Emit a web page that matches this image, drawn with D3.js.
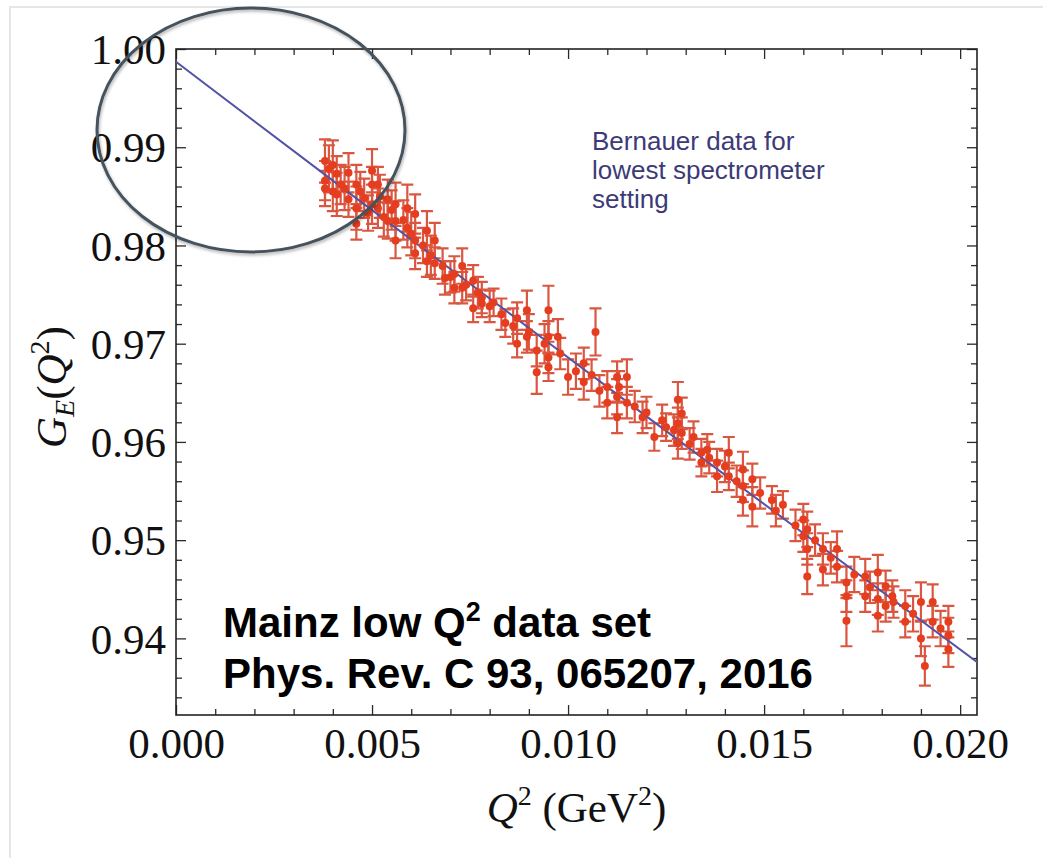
<!DOCTYPE html>
<html>
<head>
<meta charset="utf-8">
<script src="https://cdn.jsdelivr.net/npm/d3@7"></script>
<style>
  body { margin: 0; background: #fff; }
  .axis path.domain { display: none; }
  .axis line { stroke: #2a2a2a; stroke-width: 1.3; }
  .axis text { font-family: "Liberation Serif", "Times New Roman", serif; font-size: 43px; fill: #111; }
  .title { font-family: "Liberation Serif", "Times New Roman", serif; font-size: 43px; fill: #111; }
  .note { font-family: "Liberation Sans", Arial, sans-serif; font-size: 26px; fill: #3d3a78; }
  .ref { font-family: "Liberation Sans", Arial, sans-serif; font-size: 42px; font-weight: bold; fill: #000; }
</style>
</head>
<body>
<svg id="chart"></svg>
<script>
// Mainz low-Q2 data (Bernauer, lowest spectrometer setting)
const q2 = [
  0.0038, 0.0038, 0.0038, 0.0040, 0.0040, 0.0041, 0.0041, 0.0044, 0.0044, 0.0046,
  0.0046, 0.0046, 0.0048, 0.0050, 0.0050, 0.0050, 0.00515, 0.00515, 0.0054, 0.0054,
  0.0056, 0.0056, 0.0056, 0.0059, 0.0059, 0.0061, 0.0061, 0.0061, 0.0064, 0.0064,
  0.0066, 0.0066, 0.00686, 0.0071, 0.0071, 0.0073, 0.0073, 0.00758, 0.00758, 0.0078,
  0.0078, 0.0081, 0.0084, 0.0087, 0.0087, 0.00895, 0.00895, 0.0092, 0.0092, 0.0095,
  0.0095, 0.0095, 0.0095, 0.00974, 0.0100, 0.0104, 0.0104, 0.0107, 0.0110, 0.0110,
  0.01125, 0.01125, 0.01125, 0.0115, 0.0115, 0.0113, 0.0119, 0.0122, 0.0125, 0.0128,
  0.0128, 0.0128, 0.0129, 0.0129, 0.0132, 0.0134, 0.0134, 0.01355, 0.0138, 0.0138,
  0.0141, 0.0141, 0.01446, 0.01446, 0.01446, 0.0147, 0.0147, 0.0152, 0.01548, 0.0153,
  0.0160, 0.0160, 0.0161, 0.0161, 0.0161, 0.0165, 0.0165, 0.01686, 0.01686, 0.0171,
  0.0171, 0.0171, 0.01758, 0.01758, 0.0179, 0.0179, 0.0179, 0.0181, 0.0181, 0.01827,
  0.0186, 0.0186, 0.0190, 0.0190, 0.0191, 0.0193, 0.0193, 0.0197, 0.0197, 0.0197,
  0.0039, 0.0042, 0.0043, 0.0047, 0.0049, 0.0052, 0.0053, 0.0055, 0.0058, 0.0060,
  0.0063, 0.0065, 0.0068, 0.0070, 0.0074, 0.0077, 0.0080, 0.0083, 0.0086, 0.0090,
  0.0094, 0.0098, 0.0102, 0.0106, 0.0108, 0.0117, 0.0120, 0.0124, 0.0127, 0.0131,
  0.0136, 0.0140, 0.0143, 0.0149, 0.0158, 0.0163, 0.0167, 0.0173, 0.0177, 0.0183,
  0.0188, 0.0195
];
const ge = [
  0.9886, 0.9866, 0.9858, 0.9882, 0.9855, 0.9873, 0.9852, 0.9874, 0.9847, 0.9862,
  0.9838, 0.9822, 0.9848, 0.9876, 0.9862, 0.9842, 0.9862, 0.9838, 0.9847, 0.9825,
  0.9842, 0.9825, 0.9805, 0.9838, 0.9818, 0.9832, 0.9805, 0.9792, 0.9815, 0.9784,
  0.9805, 0.9782, 0.9767, 0.9771, 0.9757, 0.9779, 0.9757, 0.9764, 0.9736, 0.9747,
  0.9741, 0.9742, 0.9721, 0.9726, 0.9700, 0.9734, 0.9707, 0.9693, 0.9671, 0.9734,
  0.9707, 0.9686, 0.9676, 0.9707, 0.9666, 0.9680, 0.9661, 0.9712, 0.9656, 0.9640,
  0.9666, 0.9646, 0.9625, 0.9640, 0.9666, 0.9656, 0.9625, 0.9605, 0.9615, 0.9643,
  0.9619, 0.9599, 0.9629, 0.9609, 0.9605, 0.9589, 0.9579, 0.9592, 0.9579, 0.9565,
  0.9589, 0.9565, 0.9572, 0.9555, 0.9541, 0.9562, 0.9534, 0.9541, 0.9536, 0.9530,
  0.9521, 0.9504, 0.9511, 0.9491, 0.9463, 0.9491, 0.9470, 0.9491, 0.9473, 0.9457,
  0.9443, 0.9418, 0.9463, 0.9443, 0.9467, 0.9440, 0.9423, 0.9453, 0.9433, 0.9443,
  0.9433, 0.9417, 0.9437, 0.9400, 0.9372, 0.9437, 0.9417, 0.9417, 0.9403, 0.9389,
  0.9878, 0.9862, 0.9858, 0.9855, 0.9833, 0.9850, 0.9829, 0.9836, 0.9826, 0.9812,
  0.9800, 0.9790, 0.9779, 0.9768, 0.9760, 0.9752, 0.9738, 0.9730, 0.9718, 0.9712,
  0.9700, 0.9690, 0.9672, 0.9668, 0.9652, 0.9636, 0.9630, 0.9622, 0.9612, 0.9598,
  0.9584, 0.9575, 0.9560, 0.9548, 0.9515, 0.9500, 0.9482, 0.9465, 0.9452, 0.9437,
  0.9425, 0.9410
];
const err = [
  0.0022, 0.0020, 0.0018, 0.0025, 0.0020, 0.0018, 0.0022, 0.0020, 0.0018, 0.0020,
  0.0022, 0.0016, 0.0020, 0.0022, 0.0018, 0.0020, 0.0018, 0.0020, 0.0020, 0.0018,
  0.0022, 0.0020, 0.0018, 0.0024, 0.0020, 0.0020, 0.0018, 0.0016, 0.0020, 0.0016,
  0.0018, 0.0016, 0.0017, 0.0018, 0.0016, 0.0018, 0.0016, 0.0016, 0.0014, 0.0016,
  0.0014, 0.0014, 0.0014, 0.0016, 0.0014, 0.0020, 0.0016, 0.0016, 0.0022, 0.0025,
  0.0016, 0.0016, 0.0014, 0.0018, 0.0018, 0.0016, 0.0018, 0.0024, 0.0016, 0.0016,
  0.0016, 0.0018, 0.0016, 0.0016, 0.0018, 0.0016, 0.0016, 0.0014, 0.0014, 0.0018,
  0.0016, 0.0016, 0.0016, 0.0016, 0.0016, 0.0014, 0.0014, 0.0016, 0.0014, 0.0016,
  0.0016, 0.0014, 0.0018, 0.0016, 0.0016, 0.0016, 0.0020, 0.0014, 0.0014, 0.0016,
  0.0016, 0.0016, 0.0018, 0.0016, 0.0018, 0.0016, 0.0016, 0.0018, 0.0016, 0.0016,
  0.0016, 0.0026, 0.0018, 0.0016, 0.0018, 0.0016, 0.0016, 0.0016, 0.0016, 0.0016,
  0.0016, 0.0016, 0.0020, 0.0018, 0.0020, 0.0018, 0.0016, 0.0016, 0.0018, 0.0018,
  0.0024, 0.0020, 0.0022, 0.0020, 0.0018, 0.0022, 0.0020, 0.0020, 0.0020, 0.0022,
  0.0018, 0.0020, 0.0018, 0.0016, 0.0016, 0.0016, 0.0016, 0.0016, 0.0018, 0.0018,
  0.0020, 0.0016, 0.0018, 0.0016, 0.0016, 0.0016, 0.0016, 0.0016, 0.0016, 0.0016,
  0.0016, 0.0016, 0.0016, 0.0016, 0.0016, 0.0016, 0.0016, 0.0018, 0.0016, 0.0016,
  0.0018, 0.0018
];

// fit curve through the data
const fitQ2 = [0, 0.004, 0.008, 0.012, 0.016, 0.0205];
const fitGE = [0.9987, 0.9866, 0.9746, 0.9626, 0.9507, 0.9374];

const xMajor = [0, 0.005, 0.010, 0.015, 0.020];
const yMajor = [0.94, 0.95, 0.96, 0.97, 0.98, 0.99, 1.00];

const W = 1043, H = 858;
const m = { left: 176, right: 977, top: 49, bottom: 715 };

const svg = d3.select("#chart").attr("width", W).attr("height", H);
svg.append("rect").attr("width", W).attr("height", H).attr("fill", "#fff");

// faint slide border
svg.append("path").attr("d", `M10,${H} V7 H${W}`)
  .attr("fill", "none").attr("stroke", "#e4e6e8").attr("stroke-width", 2);

const x = d3.scaleLinear([0, 0.02043], [m.left, m.right]);
const y = d3.scaleLinear([0.9322, 1.0], [m.bottom, m.top]);

const xMinor = d3.range(1, 21).map(i => i / 1000).filter(v => Math.round(v * 1000) % 5);
const yMinor = d3.range(467, 500).map(i => i / 500).filter(v => Math.round(v * 500) % 5);

const defs = svg.append("defs");
defs.append("clipPath").attr("id", "plot")
  .append("rect").attr("x", m.left).attr("y", m.top)
  .attr("width", m.right - m.left).attr("height", m.bottom - m.top);
defs.append("filter").attr("id", "shadow")
  .attr("x", "-10%").attr("y", "-10%").attr("width", "120%").attr("height", "120%")
  .append("feDropShadow").attr("dx", 1).attr("dy", 2).attr("stdDeviation", 1.5)
  .attr("flood-color", "#000").attr("flood-opacity", 0.3);

// ticks, inward on all four sides
function ticks(axis, scale, pos, major, minor, fmt, pad) {
  svg.append("g").attr("class", "axis").attr("transform", pos)
    .call(axis(scale).tickValues(minor).tickSize(-6).tickFormat(""));
  return svg.append("g").attr("class", "axis").attr("transform", pos)
    .call(axis(scale).tickValues(major).tickSize(-10).tickPadding(pad || 3)
      .tickFormat(fmt || ""));
}
ticks(d3.axisBottom, x, `translate(0,${m.bottom})`, xMajor, xMinor, d3.format(".3f"), 12);
ticks(d3.axisTop, x, `translate(0,${m.top})`, xMajor, xMinor);
ticks(d3.axisLeft, y, `translate(${m.left},0)`, yMajor, yMinor, d3.format(".2f"), 10)
  .selectAll("text").attr("dy", "0.34em");
ticks(d3.axisRight, y, `translate(${m.right},0)`, yMajor, yMinor);

svg.append("rect").attr("x", m.left).attr("y", m.top)
  .attr("width", m.right - m.left).attr("height", m.bottom - m.top)
  .attr("fill", "none").attr("stroke", "#222").attr("stroke-width", 1.6);

const plot = svg.append("g").attr("clip-path", "url(#plot)");

// error bars
const pts = q2.map((q, i) => ({ q, g: ge[i], e: err[i] }));
const bars = plot.append("g").attr("stroke", "#d5452c").attr("stroke-width", 2.2)
  .attr("fill", "none").attr("opacity", 0.9);
bars.selectAll("path").data(pts).join("path")
  .attr("d", d => {
    const cx = x(d.q), y1 = y(d.g + d.e), y2 = y(d.g - d.e);
    return `M${cx},${y1}V${y2}M${cx - 6},${y1}H${cx + 6}M${cx - 6},${y2}H${cx + 6}`;
  });

// fit line
plot.append("path")
  .attr("fill", "none").attr("stroke", "#5252a6").attr("stroke-width", 2)
  .attr("d", d3.line().x((_, i) => x(fitQ2[i])).y(v => y(v)).curve(d3.curveMonotoneX)(fitGE));

plot.append("g").selectAll("circle").data(pts).join("circle")
  .attr("cx", d => x(d.q)).attr("cy", d => y(d.g)).attr("r", 4)
  .attr("fill", "#e53d1f");

// axis titles
svg.append("text").attr("class", "title")
  .attr("text-anchor", "middle").attr("x", (m.left + m.right) / 2).attr("y", 822)
  .call(t => {
    t.append("tspan").attr("font-style", "italic").text("Q");
    t.append("tspan").attr("font-size", 28).attr("dy", -17).text("2");
    t.append("tspan").attr("dy", 17).text(" (GeV");
    t.append("tspan").attr("font-size", 28).attr("dy", -17).text("2");
    t.append("tspan").attr("dy", 17).text(")");
  });

svg.append("text").attr("class", "title")
  .attr("text-anchor", "middle").attr("transform", "translate(66,387) rotate(-90)")
  .call(t => {
    t.append("tspan").attr("font-style", "italic").text("G");
    t.append("tspan").attr("font-style", "italic").attr("font-size", 28).attr("dy", 8).text("E");
    t.append("tspan").attr("dy", -8).text("(");
    t.append("tspan").attr("font-style", "italic").text("Q");
    t.append("tspan").attr("font-size", 28).attr("dy", -17).text("2");
    t.append("tspan").attr("dy", 17).text(")");
  });

// annotations
const note = ["Bernauer data for", "lowest spectrometer", "setting"];
svg.append("text").attr("class", "note")
  .selectAll("tspan").data(note).join("tspan")
  .attr("x", 592).attr("y", (_, i) => 150 + i * 29).text(d => d);

svg.append("text").attr("class", "ref").attr("x", 223).attr("y", 637)
  .call(t => {
    t.append("tspan").text("Mainz low Q");
    t.append("tspan").attr("font-size", 27).attr("dy", -16).text("2");
    t.append("tspan").attr("dy", 16).text(" data set");
  });
svg.append("text").attr("class", "ref").attr("x", 223).attr("y", 688)
  .text("Phys. Rev. C 93, 065207, 2016");

svg.append("ellipse").attr("cx", 251).attr("cy", 130).attr("rx", 154).attr("ry", 122)
  .attr("fill", "none").attr("stroke", "#46525c").attr("stroke-width", 3)
  .attr("filter", "url(#shadow)");
</script>
</body>
</html>
